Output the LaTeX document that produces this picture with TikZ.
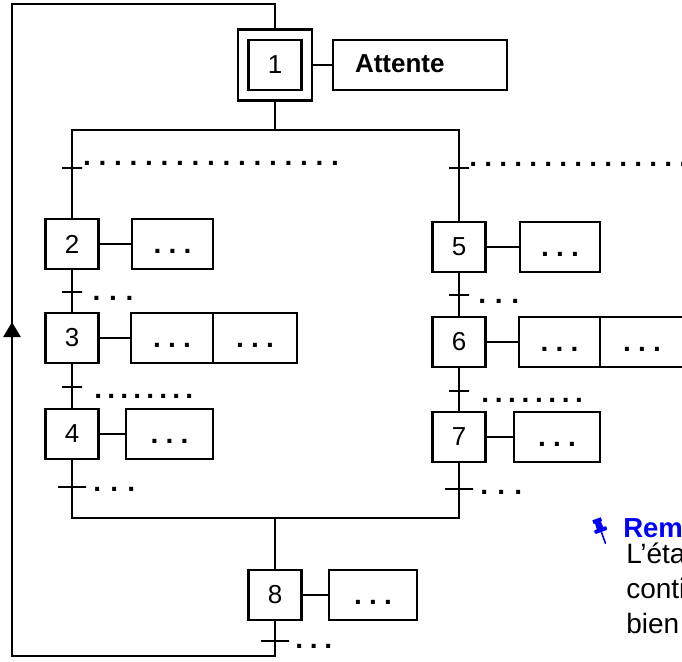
\documentclass[tikz,border=0pt]{standalone}
\usepackage{fontspec}
\setmainfont{Liberation Sans}
\usepackage{tikz}
\usetikzlibrary{shapes,arrows.meta}
\tikzstyle{etape} = [draw, minimum width=53pt, minimum height=50pt, inner sep=0pt, font=\fontsize{26}{30}\selectfont]
\tikzstyle{action} = [draw, minimum height=50pt, inner sep=0pt, text height=18pt, text depth=0pt, font=\fontsize{28}{30}\selectfont\bfseries]
\tikzstyle{recep} = [draw, minimum width=20pt, minimum height=0pt, inner sep=0pt]
\tikzstyle{cond} = [anchor=base west, inner sep=0pt, font=\fontsize{28}{30}\selectfont\bfseries]
\tikzstyle{rem} = [anchor=base west, inner sep=0pt, font=\fontsize{28}{32}\selectfont]
\newcommand\pts[2][15]{\foreach\k in {1,...,#2}{\makebox[#1pt]{.}}}

\begin{document}
\begin{tikzpicture}[-, line width=2.6pt, line cap=rect, x=1pt, y=-1pt]
\useasboundingbox (0,0) rectangle (682,661);
\clip (0,0) rectangle (682,661);

% etapes
\node[etape] (1) at (275,65) {1};
\node[etape, minimum width=74pt, minimum height=71pt] (1b) at (275,65) {};
\node[etape] (2) at (72,244) {2};
\node[etape, node distance=94pt, below of = 2] (3) {3};
\node[etape, node distance=96pt, below of = 3] (4) {4};
\node[etape] (5) at (459,247) {5};
\node[etape, node distance=95pt, below of = 5] (6) {6};
\node[etape, node distance=95pt, below of = 6] (7) {7};
\node[etape] (8) at (275,595) {8};

% actions
\node[action, node distance=145pt, right of = 1, minimum width=174pt, text width=130pt, align=left, text height=14pt, font=\fontsize{26}{30}\selectfont\bfseries] (a1) {Attente};
\node[action, node distance=100.5pt, right of = 2, minimum width=81pt] (a2) {\pts{3}};
\node[action, node distance=100pt, right of = 3, minimum width=82pt] (a3) {\pts{3}};
\node[action, node distance=83pt, right of = a3, minimum width=84pt] (a3b) {\pts{3}};
\node[action, node distance=97.5pt, right of = 4, minimum width=87pt] (a4) {\pts{3}};
\node[action, node distance=101pt, right of = 5, minimum width=80pt] (a5) {\pts{3}};
\node[action, node distance=100.5pt, right of = 6, minimum width=81pt] (a6) {\pts{3}};
\node[action, node distance=82.5pt, right of = a6, minimum width=84pt] (a6b) {\pts{3}};
\node[action, node distance=98pt, right of = 7, minimum width=86pt] (a7) {\pts{3}};
\node[action, node distance=98pt, right of = 8, minimum width=88pt] (a8) {\pts{3}};

% receptivites
\node[recep] (t1) at (72,168) {};
\node[recep] (t5) at (459,168) {};
\node[recep] (t23) at (72,292) {};
\node[recep] (t34) at (72,387) {};
\node[recep, minimum width=28pt] (t4) at (72,487) {};
\node[recep] (t56) at (459,295) {};
\node[recep] (t67) at (459,391) {};
\node[recep, minimum width=28pt] (t7) at (459,489) {};
\node[recep, minimum width=28pt] (t8) at (275,641) {};

\node[cond] (c1) at (78,165) {\pts[15.5]{17}};
\node[cond] (c5) at (464.5,166) {\pts{15}};
\node[cond] (c23) at (87,300) {\pts[16.5]{3}};
\node[cond] (c34) at (90.5,398) {\pts[13]{8}};
\node[cond] (c4) at (87.5,491) {\pts[17]{3}};
\node[cond] (c56) at (472.75,303) {\pts[16.5]{3}};
\node[cond] (c67) at (477.3,402) {\pts[13.4]{8}};
\node[cond] (c7) at (474.5,494) {\pts[17]{3}};
\node[cond] (c8) at (290.75,648) {\pts[14.5]{3}};

% divergence / convergence en ET
\coordinate (div) at (275,130);
\coordinate (divl) at (72,130);
\coordinate (divr) at (459,130);
\coordinate (conv) at (275,518);
\coordinate (convl) at (72,518);
\coordinate (convr) at (459,518);
\coordinate (hg) at (12,4);
\coordinate (hd) at (275,4);
\coordinate (bg) at (12,656);
\coordinate (bd) at (275,656);
\coordinate (fl) at (12,322);

\path
(1b) edge (div)
(divl) edge (divr)
(divl) edge (2)
(divr) edge (5)
(2) edge (3)
(3) edge (4)
(5) edge (6)
(6) edge (7)
(4) edge (convl)
(7) edge (convr)
(convl) edge (convr)
(conv) edge (8)
(1b) edge (a1)
(2) edge (a2)
(3) edge (a3)
(4) edge (a4)
(5) edge (a5)
(6) edge (a6)
(7) edge (a7)
(8) edge (a8);

% retour
\draw (8) -- (bd) -- (bg) -- (hg) -- (hd) -- (1b);
\draw[-{Triangle[width=17pt,length=15pt]}] (bg) -- (fl);

% remarque
\begin{scope}[shift={(601,531)}, rotate=20, fill=blue, draw=blue, line width=1.6pt, line cap=round]
\fill (-4.5,-13) rectangle (4.5,-9);
\fill (-3,-9.5) -- (3,-9.5) -- (3.5,-2) -- (-3.5,-2) -- cycle;
\fill[rounded corners=1pt] (-6.5,-3) rectangle (6.5,1);
\draw (0,1) -- (0,13);
\end{scope}
\node[anchor=base west, inner sep=0pt, text=blue, font=\fontsize{27.5}{30}\selectfont\bfseries] (rq) at (622,537) {Remarque};
\node[rem] (r1) at (625,563) {L’étape};
\node[rem] (r2) at (625,598) {contient};
\node[rem] (r3) at (625,633) {bien};
\end{tikzpicture}
\end{document}
